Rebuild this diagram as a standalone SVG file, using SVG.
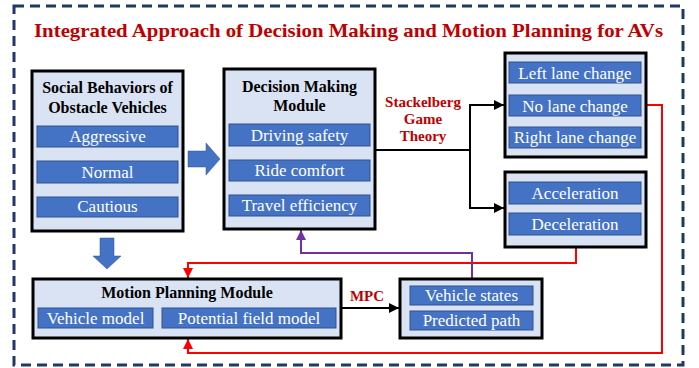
<svg xmlns="http://www.w3.org/2000/svg" width="699" height="368" viewBox="0 0 699 368">
<style>
.frame{fill:none;stroke:#1F3864;stroke-width:3;stroke-dasharray:10 6}
.box{fill:#DAE3F3;stroke:#000;stroke-width:3}
.item{fill:#4472C4;stroke:#2F528F;stroke-width:1}
.it{font-family:"Liberation Serif","Times New Roman",serif;font-size:17px;fill:#fff;text-anchor:middle}
.hd{font-family:"Liberation Serif","Times New Roman",serif;font-size:16px;font-weight:bold;fill:#000;text-anchor:middle}
.rl{font-family:"Liberation Serif","Times New Roman",serif;font-size:15px;font-weight:bold;fill:#C00000;text-anchor:middle}
.blk{fill:none;stroke:#000;stroke-width:2}
.red{fill:none;stroke:#FF0000;stroke-width:2}
.pur{fill:none;stroke:#7030A0;stroke-width:2}
.bigarrow{fill:#4472C4;stroke:#2F528F;stroke-width:0.5}
</style>
<defs>
<marker id="ab" markerUnits="userSpaceOnUse" markerWidth="10" markerHeight="10" viewBox="0 0 10 10" refX="10" refY="5" orient="auto"><path d="M0,0 L10,5 L0,10 z" fill="#000"/></marker>
<marker id="ar" markerUnits="userSpaceOnUse" markerWidth="10" markerHeight="10" viewBox="0 0 10 10" refX="10" refY="5" orient="auto"><path d="M0,0 L10,5 L0,10 z" fill="#FF0000"/></marker>
<marker id="ap" markerUnits="userSpaceOnUse" markerWidth="10" markerHeight="10" viewBox="0 0 10 10" refX="10" refY="5" orient="auto"><path d="M0,0 L10,5 L0,10 z" fill="#7030A0"/></marker>
</defs>
<rect class="frame" x="14" y="6" width="669" height="359"/>
<text x="34" y="37" textLength="629" lengthAdjust="spacingAndGlyphs" style="font-family:'Liberation Serif','Times New Roman',serif;font-size:19px;font-weight:bold;fill:#C00000">Integrated Approach of Decision Making and Motion Planning for AVs</text>

<g id="connectors">
<path class="blk" d="M375,150 H470 V105 H504" marker-end="url(#ab)"/>
<path class="blk" d="M470,150 V208 H504" marker-end="url(#ab)"/>
<path class="blk" d="M341,308 H399" marker-end="url(#ab)"/>
<path class="red" d="M646,105 H662 V353 H188 V339" marker-end="url(#ar)"/>
<path class="red" d="M576,247 V263 H188 V278" marker-end="url(#ar)"/>
<path class="pur" d="M472,279 V253 H301 V230" marker-end="url(#ap)"/>
<path class="bigarrow" d="M188,151 H206 V143 L220,159 L206,175 V167 H188 Z"/>
<path class="bigarrow" d="M100,238 H114 V256 H121 L107,269 L93,256 H100 Z"/>
<text class="rl" x="423" y="107">Stackelberg</text>
<text class="rl" x="423" y="124">Game</text>
<text class="rl" x="423" y="141">Theory</text>
<text class="rl" x="367" y="301">MPC</text>
</g>

<g id="social">
<rect class="box" x="32" y="71" width="151" height="160"/>
<text class="hd" x="107.5" y="93">Social Behaviors of</text>
<text class="hd" x="107.5" y="113">Obstacle Vehicles</text>
<rect class="item" x="37" y="126" width="141" height="21"/>
<text class="it" x="107.5" y="142">Aggressive</text>
<rect class="item" x="37" y="161" width="141" height="22"/>
<text class="it" x="107.5" y="178">Normal</text>
<rect class="item" x="37" y="197" width="141" height="20"/>
<text class="it" x="107.5" y="212">Cautious</text>
</g>

<g id="decision">
<rect class="box" x="224" y="69" width="151" height="160"/>
<text class="hd" x="299.5" y="92">Decision Making</text>
<text class="hd" x="299.5" y="111">Module</text>
<rect class="item" x="229" y="124" width="141" height="22"/>
<text class="it" x="299.5" y="141">Driving safety</text>
<rect class="item" x="229" y="160" width="141" height="21"/>
<text class="it" x="299.5" y="176">Ride comfort</text>
<rect class="item" x="229" y="195" width="141" height="21"/>
<text class="it" x="299.5" y="211">Travel efficiency</text>
</g>

<g id="lane">
<rect class="box" x="505" y="53" width="141" height="104"/>
<rect class="item" x="509" y="62" width="132" height="21"/>
<text class="it" x="575" y="79">Left lane change</text>
<rect class="item" x="509" y="95" width="132" height="21"/>
<text class="it" x="575" y="112">No lane change</text>
<rect class="item" x="509" y="127" width="132" height="21"/>
<text class="it" x="575" y="143">Right lane change</text>
</g>

<g id="speed">
<rect class="box" x="505" y="172" width="141" height="75"/>
<rect class="item" x="509" y="182" width="132" height="22"/>
<text class="it" x="575" y="199">Acceleration</text>
<rect class="item" x="509" y="213" width="132" height="22"/>
<text class="it" x="575" y="230">Deceleration</text>
</g>

<g id="motion">
<rect class="box" x="33" y="279" width="308" height="59"/>
<text class="hd" x="187" y="298">Motion Planning Module</text>
<rect class="item" x="38" y="308" width="115" height="20"/>
<text class="it" x="95.5" y="324">Vehicle model</text>
<rect class="item" x="162" y="308" width="174" height="20"/>
<text class="it" x="249" y="324">Potential field model</text>
</g>

<g id="states">
<rect class="box" x="400" y="279" width="142" height="59"/>
<rect class="item" x="410" y="286" width="123" height="19"/>
<text class="it" x="471.5" y="301">Vehicle states</text>
<rect class="item" x="410" y="311" width="123" height="19"/>
<text class="it" x="471.5" y="326">Predicted path</text>
</g>
</svg>
